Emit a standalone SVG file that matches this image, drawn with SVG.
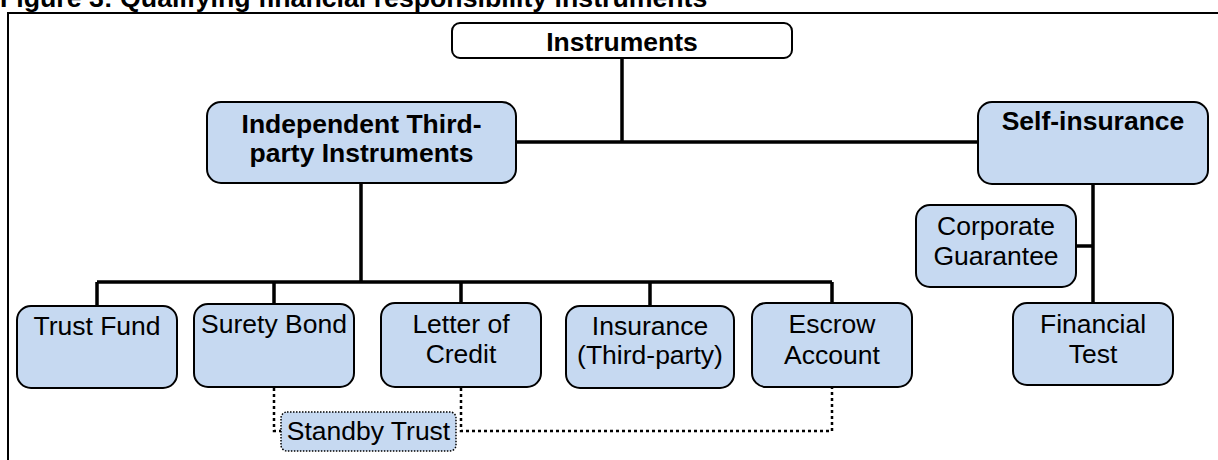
<svg xmlns="http://www.w3.org/2000/svg" width="1218" height="460" viewBox="0 0 1218 460">
<style>
  text { font-family: "Liberation Sans", Arial, sans-serif; font-size: 26.5px; fill: #000; text-anchor: middle; }
  .b { font-weight: bold; }
  .title { text-anchor: start; font-weight: bold; font-size: 26.7px; }
  .node { fill: #c6d9f1; stroke: #000; stroke-width: 2; }
  .top { fill: #fff; stroke: #000; stroke-width: 2; }
  .dotbox { fill: #c6d9f1; stroke: #000; stroke-width: 1.5; stroke-dasharray: 1.5 1.5; }
  .conn { fill: none; stroke: #000; stroke-width: 3.5; }
  .dot { fill: none; stroke: #000; stroke-width: 2.5; stroke-dasharray: 3 3; }
  .frame { fill: none; stroke: #000; stroke-width: 2; }
</style>
<rect width="1218" height="460" fill="#fff"/>
<text class="title" x="0" y="7">Figure 3: Qualifying financial responsibility instruments</text>
<path class="frame" d="M8,460 V13 H1218"/>
<g id="connectors">
  <path class="conn" d="M622,58 V142 M516,142 H978"/>
  <path class="conn" d="M361,183 V282 M97,282 H832 M97,282 V306 M274,282 V304 M461,282 V303 M650,282 V306 M832,282 V303"/>
  <path class="conn" d="M1093,184 V303 M1076,246 H1093"/>
  <path class="dot" d="M274,388 V431 H281"/>
  <path class="dot" d="M461,388 V431 H832 V388"/>
</g>
<g id="instruments">
  <rect class="top" x="452" y="23" width="340" height="35" rx="8"/>
  <text class="b" x="622" y="51">Instruments</text>
</g>
<g id="independent">
  <rect class="node" x="207" y="102" width="309" height="81" rx="14"/>
  <text class="b" x="361.5" y="133">Independent Third-</text>
  <text class="b" x="361.5" y="162">party Instruments</text>
</g>
<g id="self-insurance">
  <rect class="node" x="978" y="102" width="230" height="82" rx="14"/>
  <text class="b" x="1093" y="130">Self-insurance</text>
</g>
<g id="corporate-guarantee">
  <rect class="node" x="916" y="205" width="160" height="82" rx="14"/>
  <text x="996" y="235">Corporate</text>
  <text x="996" y="265">Guarantee</text>
</g>
<g id="financial-test">
  <rect class="node" x="1013" y="303" width="160" height="82" rx="14"/>
  <text x="1093" y="333">Financial</text>
  <text x="1093" y="363">Test</text>
</g>
<g id="trust-fund">
  <rect class="node" x="17" y="306" width="160" height="82" rx="14"/>
  <text x="97" y="335">Trust Fund</text>
</g>
<g id="surety-bond">
  <rect class="node" x="194" y="304" width="160" height="83" rx="14"/>
  <text x="274" y="333">Surety Bond</text>
</g>
<g id="letter-of-credit">
  <rect class="node" x="381" y="303" width="160" height="84" rx="14"/>
  <text x="461" y="333">Letter of</text>
  <text x="461" y="363">Credit</text>
</g>
<g id="insurance">
  <rect class="node" x="566" y="306" width="168" height="82" rx="14"/>
  <text x="650" y="335">Insurance</text>
  <text x="650" y="364">(Third-party)</text>
</g>
<g id="escrow">
  <rect class="node" x="752" y="303" width="160" height="84" rx="14"/>
  <text x="832" y="333">Escrow</text>
  <text x="832" y="364">Account</text>
</g>
<g id="standby-trust">
  <rect class="dotbox" x="281" y="412" width="175" height="39" rx="6"/>
  <text x="368.5" y="440">Standby Trust</text>
</g>
</svg>
